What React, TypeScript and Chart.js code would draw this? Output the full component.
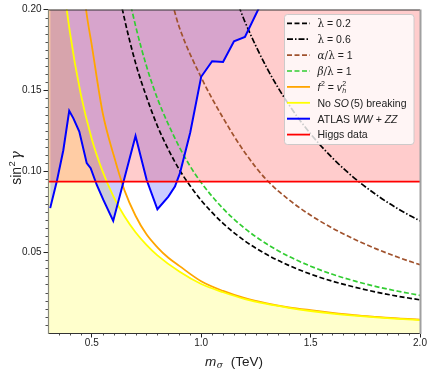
import React, { useEffect, useRef } from 'react';
import { Chart, registerables } from 'chart.js';
Chart.register(...registerables);

// ---- data ----
const lambda02X = [0.6, 0.64, 0.7, 0.75, 0.8, 0.85, 0.9, 0.95, 1.0, 1.1, 1.2, 1.3, 1.4, 1.5, 1.6, 1.7, 1.8, 1.9, 2.0];
const lambda02Y = [0.228, 0.2, 0.167, 0.146, 0.128, 0.1135, 0.101, 0.0909, 0.082, 0.0678, 0.0569, 0.0485, 0.0418, 0.0364, 0.032, 0.0284, 0.0253, 0.0227, 0.0205];

const lambda06X = [1.1, 1.178, 1.2, 1.3, 1.4, 1.5, 1.6, 1.7, 1.8, 1.9, 2.0];
const lambda06Y = [0.229, 0.2, 0.1924, 0.1639, 0.1413, 0.1231, 0.1082, 0.0958, 0.0855, 0.0767, 0.0693];

const alphaX = [0.85, 0.876, 0.9, 1.0, 1.1, 1.2, 1.3, 1.4, 1.5, 1.6, 1.7, 1.8, 1.9, 2.0];
const alphaY = [0.213, 0.2, 0.189, 0.158, 0.133, 0.1115, 0.0945, 0.0825, 0.0728, 0.0648, 0.058, 0.052, 0.0468, 0.0422];

const betaX = [0.65, 0.7, 0.75, 0.8, 0.85, 0.9, 0.95, 1.0, 1.1, 1.2, 1.3, 1.4, 1.5, 1.6, 1.7, 1.8, 1.9, 2.0];
const betaY = [0.22, 0.19, 0.165, 0.145, 0.129, 0.115, 0.103, 0.093, 0.0769, 0.0646, 0.055, 0.0474, 0.0413, 0.0363, 0.0322, 0.0287, 0.0258, 0.0233];

const fvX = [0.44, 0.474, 0.5, 0.55, 0.6, 0.65, 0.7, 0.75, 0.8, 0.85, 0.9, 1.0, 1.1, 1.2, 1.3, 1.4, 1.5, 1.6, 1.7, 1.8, 1.9, 2.0];
const fvY = [0.245, 0.2, 0.178, 0.136, 0.11, 0.088, 0.0725, 0.061, 0.053, 0.0465, 0.0415, 0.032, 0.026, 0.0215, 0.0183, 0.0159, 0.0141, 0.0125, 0.0111, 0.01, 0.009, 0.0083];

const so5X = [0.3, 0.35, 0.4, 0.45, 0.5, 0.55, 0.6, 0.65, 0.7, 0.75, 0.8, 0.9, 1.0, 1.1, 1.2, 1.3, 1.4, 1.5, 1.6, 1.7, 1.8, 1.9, 2.0];
const so5Y = [0.325, 0.241, 0.186, 0.1475, 0.12, 0.0998, 0.0842, 0.072, 0.0623, 0.0545, 0.048, 0.038, 0.0303, 0.0252, 0.021, 0.018, 0.0156, 0.0136, 0.012, 0.0107, 0.0096, 0.0087, 0.008];

const atlasX = [0.31, 0.34, 0.37, 0.397, 0.416, 0.443, 0.477, 0.495, 0.523, 0.553, 0.598, 0.7, 0.751, 0.8, 0.85, 0.88, 0.903, 0.95, 1.0, 1.05, 1.1, 1.15, 1.2, 1.3];
const atlasY = [0.0772, 0.0936, 0.113, 0.1374, 0.1327, 0.1245, 0.105, 0.1019, 0.0915, 0.0823, 0.0693, 0.1218, 0.0946, 0.0765, 0.0843, 0.0905, 0.0988, 0.124, 0.1584, 0.168, 0.1675, 0.1804, 0.183, 0.211];

const higgsX = [0.3, 2.0];
const higgsY = [0.0936, 0.0936];

const xMajorTicks = [0.5, 1.0, 1.5, 2.0];
const yMajorTicks = [0.05, 0.1, 0.15, 0.2];

const SANS = '"Liberation Sans", Arial, Helvetica, sans-serif';
const SERIF = '"DejaVu Serif", "Liberation Serif", serif';

const mk = (xs: number[], ys: number[]) => xs.map((x, i) => ({ x, y: ys[i] }));

type Seg = { t: string; f: string; dy?: number; dx?: number; noAdv?: boolean };

function drawRich(ctx: CanvasRenderingContext2D, segs: Seg[], x: number, y: number) {
  let cx = x;
  for (const s of segs) {
    ctx.font = s.f;
    const px = cx + (s.dx || 0);
    ctx.fillText(s.t, px, y + (s.dy || 0));
    if (!s.noAdv) cx = px + ctx.measureText(s.t).width;
  }
  return cx - x;
}
function richWidth(ctx: CanvasRenderingContext2D, segs: Seg[]) {
  let w = 0;
  for (const s of segs) {
    ctx.font = s.f;
    if (!s.noAdv) w += ctx.measureText(s.t).width + (s.dx || 0);
  }
  return w;
}

const LF = `10.5px ${SANS}`;
const LFI = `italic 10.5px ${SANS}`;
const LG = `10.5px ${SERIF}`;
const LGI = `italic 10.5px ${SERIF}`;
const LS = `7px ${SANS}`;
const LSI = `italic 7px ${SANS}`;

const DASH = [5, 2.5];
const DASHDOT = [6, 2, 1.5, 2];

const legendItems: { color: string; dash: number[]; w: number; segs: Seg[] }[] = [
  { color: '#000000', dash: DASH, w: 1.7, segs: [{ t: 'λ', f: LG }, { t: ' = 0.2', f: LF }] },
  { color: '#000000', dash: DASHDOT, w: 1.7, segs: [{ t: 'λ', f: LG }, { t: ' = 0.6', f: LF }] },
  { color: '#a0522d', dash: DASH, w: 1.7, segs: [{ t: 'α', f: LGI }, { t: '/', f: LG }, { t: 'λ', f: LG }, { t: ' = 1', f: LF }] },
  { color: '#32cd32', dash: DASH, w: 1.7, segs: [{ t: 'β', f: LGI }, { t: '/', f: LG }, { t: 'λ', f: LG }, { t: ' = 1', f: LF }] },
  {
    color: '#ffa500', dash: [], w: 1.8, segs: [
      { t: 'f', f: LFI }, { t: '2', f: LS, dy: -4.5, dx: 0.5 }, { t: ' = ', f: LF }, { t: 'v', f: LFI },
      { t: '2', f: LS, dy: -4.5, dx: 0.3, noAdv: true }, { t: 'h', f: LSI, dy: 2.5, dx: 0.3 },
    ],
  },
  { color: '#ffff00', dash: [], w: 1.8, segs: [{ t: 'No ', f: LF }, { t: 'SO', f: LFI }, { t: '(5) breaking', f: LF, dx: 1.5 }] },
  { color: '#0000ff', dash: [], w: 2, segs: [{ t: 'ATLAS ', f: LF }, { t: 'WW', f: LFI }, { t: ' + ', f: LF }, { t: 'ZZ', f: LFI }] },
  { color: '#ff0000', dash: [], w: 1.8, segs: [{ t: 'Higgs data', f: LF }] },
];

const decorPlugin = {
  id: 'decor',
  afterDraw(chart: any) {
    const { ctx, chartArea } = chart;
    const { left, right, top, bottom } = chartArea;
    const xs = chart.scales.x;
    const ys = chart.scales.y;
    ctx.save();
    // minor ticks
    ctx.strokeStyle = '#222';
    ctx.lineWidth = 0.8;
    ctx.setLineDash([]);
    ctx.beginPath();
    for (let i = 7; i < 40; i++) {
      const v = i * 0.05;
      if (i % 10 === 0) continue;
      const px = Math.round(xs.getPixelForValue(v)) + 0.5;
      ctx.moveTo(px, bottom);
      ctx.lineTo(px, bottom + 2.5);
    }
    for (let i = 1; i < 40; i++) {
      if (i % 10 === 0) continue;
      const v = i * 0.005;
      const py = Math.round(ys.getPixelForValue(v)) + 0.5;
      ctx.moveTo(left, py);
      ctx.lineTo(left - 2.5, py);
    }
    ctx.stroke();

    // spines
    ctx.lineWidth = 1;
    ctx.strokeStyle = '#333';
    ctx.beginPath();
    ctx.moveTo(left, top + 0.5); ctx.lineTo(right, top + 0.5);
    ctx.moveTo(left, bottom + 0.5); ctx.lineTo(right, bottom + 0.5);
    ctx.stroke();
    ctx.lineWidth = 2;
    ctx.strokeStyle = '#a0a0a0';
    ctx.beginPath();
    ctx.moveTo(right + 0.5, top); ctx.lineTo(right + 0.5, bottom + 1);
    ctx.stroke();
    ctx.lineWidth = 1.2;
    ctx.strokeStyle = '#8a8a7a';
    ctx.beginPath();
    ctx.moveTo(left + 0.5, top); ctx.lineTo(left + 0.5, bottom + 1);
    ctx.stroke();

    // legend
    const bx = 284.5, by = 14.5, bw = 129.5, bh = 130;
    ctx.beginPath();
    (ctx as any).roundRect(bx, by, bw, bh, 3);
    ctx.fillStyle = 'rgba(255,255,255,0.8)';
    ctx.fill();
    ctx.lineWidth = 1;
    ctx.strokeStyle = 'rgba(200,200,200,0.9)';
    ctx.stroke();
    legendItems.forEach((it, i) => {
      const ry = 23.3 + i * 15.9;
      ctx.setLineDash(it.dash);
      ctx.lineWidth = it.w;
      ctx.strokeStyle = it.color;
      ctx.beginPath();
      ctx.moveTo(287, ry);
      ctx.lineTo(310, ry);
      ctx.stroke();
      ctx.setLineDash([]);
      ctx.fillStyle = '#222';
      ctx.textBaseline = 'alphabetic';
      ctx.textAlign = 'left';
      drawRich(ctx, it.segs, 317.5, ry + 3.8);
    });

    // x axis title
    ctx.fillStyle = '#222';
    ctx.textAlign = 'left';
    ctx.textBaseline = 'alphabetic';
    const xt: Seg[] = [
      { t: 'm', f: `italic 13.5px ${SANS}` },
      { t: 'σ', f: `italic 9px ${SERIF}`, dy: 2.5, dx: 0.5 },
      { t: '(TeV)', f: `13.5px ${SANS}`, dx: 8 },
    ];
    const xw = richWidth(ctx, xt);
    drawRich(ctx, xt, 234 - xw / 2, 365.5);

    // y axis title
    const yt: Seg[] = [
      { t: 'sin', f: `14px ${SANS}` },
      { t: '2', f: `9.5px ${SANS}`, dy: -6, dx: 0.5 },
      { t: 'γ', f: `italic 14px ${SERIF}`, dx: 1.5 },
    ];
    const yw = richWidth(ctx, yt);
    ctx.translate(20.5, 168);
    ctx.rotate(-Math.PI / 2);
    drawRich(ctx, yt, -yw / 2, 0);
    ctx.restore();
  },
};

export default function App() {
  const ref = useRef<HTMLCanvasElement>(null);
  useEffect(() => {
    document.body.style.margin = '0';
    const canvas = ref.current!;
    const lineBase = { pointRadius: 0, pointHoverRadius: 0, fill: false, cubicInterpolationMode: 'monotone' as const };
    const chart = new Chart(canvas, {
      type: 'line',
      data: {
        datasets: [
          { ...lineBase, label: 'Higgs data', data: mk(higgsX, higgsY), borderColor: '#ff0000', borderWidth: 1.6, fill: 'end', backgroundColor: 'rgba(255,0,0,0.2)' },
          { pointRadius: 0, label: 'ATLAS WW + ZZ', data: mk(atlasX, atlasY), borderColor: '#0000ff', borderWidth: 2, fill: 'end', backgroundColor: 'rgba(0,0,255,0.2)', tension: 0 },
          { ...lineBase, label: 'No SO(5) breaking', data: mk(so5X, so5Y), borderColor: '#ffff00', borderWidth: 1.8, fill: 'origin', backgroundColor: 'rgba(255,255,0,0.2)' },
          { ...lineBase, label: 'f2 = vh2', data: mk(fvX, fvY), borderColor: '#ffa500', borderWidth: 1.8 },
          { ...lineBase, label: 'beta/lambda = 1', data: mk(betaX, betaY), borderColor: '#32cd32', borderWidth: 1.7, borderDash: DASH },
          { ...lineBase, label: 'alpha/lambda = 1', data: mk(alphaX, alphaY), borderColor: '#a0522d', borderWidth: 1.7, borderDash: DASH },
          { ...lineBase, label: 'lambda = 0.6', data: mk(lambda06X, lambda06Y), borderColor: '#000000', borderWidth: 1.7, borderDash: DASHDOT },
          { ...lineBase, label: 'lambda = 0.2', data: mk(lambda02X, lambda02Y), borderColor: '#000000', borderWidth: 1.7, borderDash: DASH },
        ],
      },
      options: {
        animation: false,
        responsive: false,
        maintainAspectRatio: false,
        devicePixelRatio: 1,
        layout: { padding: { top: 9.5, right: 13, left: 0, bottom: 0 } },
        plugins: {
          legend: { display: false },
          tooltip: { enabled: false },
          filler: { drawTime: 'beforeDatasetsDraw', propagate: false } as any,
        },
        scales: {
          x: {
            type: 'linear',
            min: 0.3,
            max: 2.0,
            afterBuildTicks: (s: any) => { s.ticks = xMajorTicks.map((v) => ({ value: v })); },
            afterFit: (s: any) => { s.height = 43; },
            ticks: {
              callback: (v: any) => Number(v).toFixed(1),
              font: { family: SANS, size: 10 },
              color: '#222',
              maxRotation: 0,
              autoSkip: false,
              padding: 0,
            },
            grid: { drawOnChartArea: false, drawTicks: true, tickLength: 4.5, tickColor: '#222', tickWidth: 1 },
            border: { display: false },
          },
          y: {
            type: 'linear',
            min: 0,
            max: 0.2,
            afterBuildTicks: (s: any) => { s.ticks = yMajorTicks.map((v) => ({ value: v })); },
            afterFit: (s: any) => { s.width = 48; },
            ticks: {
              callback: (v: any) => Number(v).toFixed(2),
              font: { family: SANS, size: 10 },
              color: '#222',
              autoSkip: false,
              padding: 2,
            },
            grid: { drawOnChartArea: false, drawTicks: true, tickLength: 4.5, tickColor: '#222', tickWidth: 1 },
            border: { display: false },
          },
        },
      },
      plugins: [decorPlugin],
    });
    return () => chart.destroy();
  }, []);
  return (
    <div style={{ width: 433, height: 376, background: '#fff' }}>
      <canvas ref={ref} width={433} height={376} style={{ display: 'block' }} />
    </div>
  );
}
